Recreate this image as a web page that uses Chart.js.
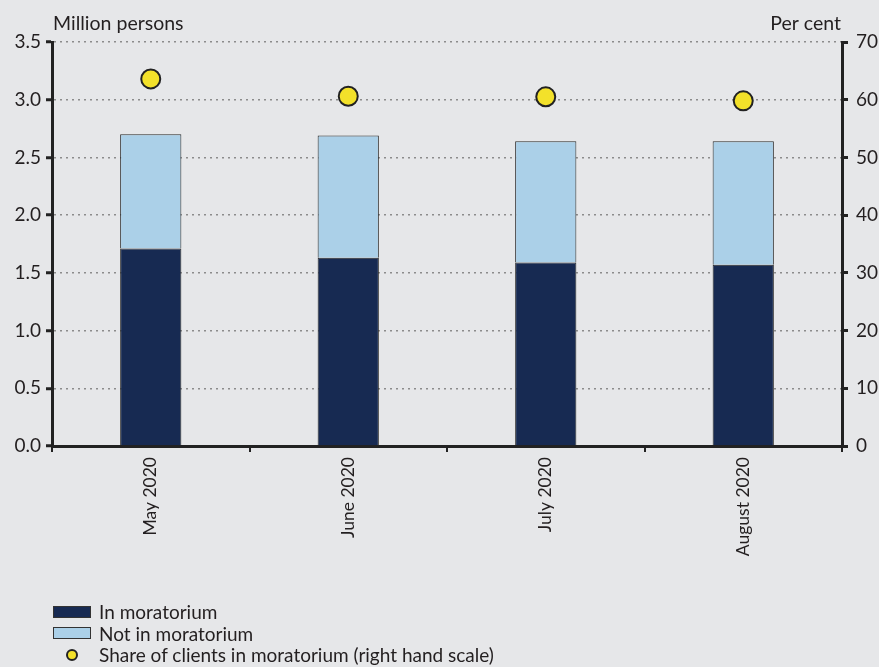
<!DOCTYPE html>
<html>
<head>
<meta charset="utf-8">
<script src="https://cdn.jsdelivr.net/npm/chart.js@4"></script>
<style>
  html, body { margin: 0; padding: 0; background: #e6e7e9; }
  #wrap { position: relative; width: 879px; height: 667px; }
  #legend { position: absolute; left: 53px; top: 601px; font: 19px Lato, sans-serif; color: #231f20; }
  .row { height: 21.5px; display: flex; align-items: center; white-space: nowrap; }
  .box { width: 36px; height: 10px; border: 1px solid #333; margin-right: 8px; }
  .dot { width: 8px; height: 8px; border-radius: 50%; background: #f3e12a; border: 2px solid #222; margin: 0 21px 0 13px; }
</style>
</head>
<body>
<div id="wrap">
  <canvas id="chart" width="879" height="667"></canvas>
  <div id="legend">
    <div class="row"><span class="box" style="background:#172a52"></span>In moratorium</div>
    <div class="row"><span class="box" style="background:#abd0e8"></span>Not in moratorium</div>
    <div class="row"><span class="dot"></span>Share of clients in moratorium (right hand scale)</div>
  </div>
</div>
<script>
const months = ["May 2020", "June 2020", "July 2020", "August 2020"];
const inMoratorium = [1.71, 1.63, 1.59, 1.57];
const notInMoratorium = [0.99, 1.06, 1.05, 1.07];
const shareInMoratorium = [63.6, 60.6, 60.5, 59.8];
const leftTicks = [0, 0.5, 1, 1.5, 2, 2.5, 3, 3.5];
const rightTicks = [0, 10, 20, 30, 40, 50, 60, 70];

const textColor = "#231f20";
const fontFamily = "Lato, sans-serif";

// unit labels above each y axis
const axisTitles = {
  id: "axisTitles",
  afterDraw(chart) {
    const { ctx, chartArea } = chart;
    ctx.save();
    ctx.fillStyle = textColor;
    ctx.font = "19.5px " + fontFamily;
    ctx.textBaseline = "alphabetic";
    ctx.textAlign = "left";
    ctx.fillText("Million persons", chartArea.left + 1, chartArea.top - 12);
    ctx.textAlign = "right";
    ctx.fillText("Per cent", chartArea.right - 1, chartArea.top - 12);
    ctx.restore();
  }
};

new Chart(document.getElementById("chart"), {
  data: {
    labels: months,
    datasets: [
      {
        type: "line",
        label: "Share of clients in moratorium (right hand scale)",
        data: shareInMoratorium,
        yAxisID: "y1",
        showLine: false,
        pointRadius: 9.5,
        pointBackgroundColor: "#f3e12a",
        pointBorderColor: "#222",
        pointBorderWidth: 2,
        order: 0
      },
      {
        type: "bar",
        label: "In moratorium",
        data: inMoratorium,
        backgroundColor: "#172a52",
        borderColor: "#2a2a2a",
        borderWidth: 1,
        barPercentage: 0.31,
        categoryPercentage: 1,
        stack: "a",
        order: 1
      },
      {
        type: "bar",
        label: "Not in moratorium",
        data: notInMoratorium,
        backgroundColor: "#abd0e8",
        borderColor: "#2a2a2a",
        borderWidth: 1,
        barPercentage: 0.31,
        categoryPercentage: 1,
        stack: "a",
        order: 1
      }
    ]
  },
  options: {
    responsive: false,
    animation: false,
    layout: { padding: { top: 42, bottom: 0, left: 0, right: 0 } },
    plugins: { legend: { display: false }, tooltip: { enabled: false } },
    scales: {
      x: {
        stacked: true,
        offset: true,
        afterFit(scale) { scale.height = 221; },
        grid: {
          offset: true,
          drawOnChartArea: false,
          color: "#222",
          tickLength: 6,
          lineWidth: 2
        },
        border: { color: "#222", width: 3 },
        ticks: {
          color: textColor,
          font: { family: fontFamily, size: 17.5 },
          minRotation: 90,
          maxRotation: 90,
          padding: 5
        }
      },
      y: {
        stacked: true,
        position: "left",
        min: 0,
        max: 3.5,
        afterFit(scale) { scale.width = 52; },
        afterBuildTicks(scale) {
          scale.ticks = leftTicks.map(v => ({ value: v }));
        },
        grid: {
          color: "#8c8c8c",
          lineWidth: 1.5,
          tickBorderDash: [],
          tickColor: "#222",
          tickWidth: 3,
          tickLength: 6
        },
        border: { color: "#222", width: 3, dash: [2, 4] },
        ticks: {
          color: textColor,
          font: { family: fontFamily, size: 19 },
          padding: 5,
          callback: v => Number(v).toFixed(1)
        }
      },
      y1: {
        position: "right",
        min: 0,
        max: 70,
        afterFit(scale) { scale.width = 37; },
        afterBuildTicks(scale) {
          scale.ticks = rightTicks.map(v => ({ value: v }));
        },
        grid: {
          drawOnChartArea: false,
          color: "#222",
          tickLength: 6,
          lineWidth: 3
        },
        border: { color: "#222", width: 3 },
        ticks: {
          color: textColor,
          font: { family: fontFamily, size: 19 },
          padding: 8
        }
      }
    }
  },
  plugins: [axisTitles]
});
</script>
</body>
</html>
